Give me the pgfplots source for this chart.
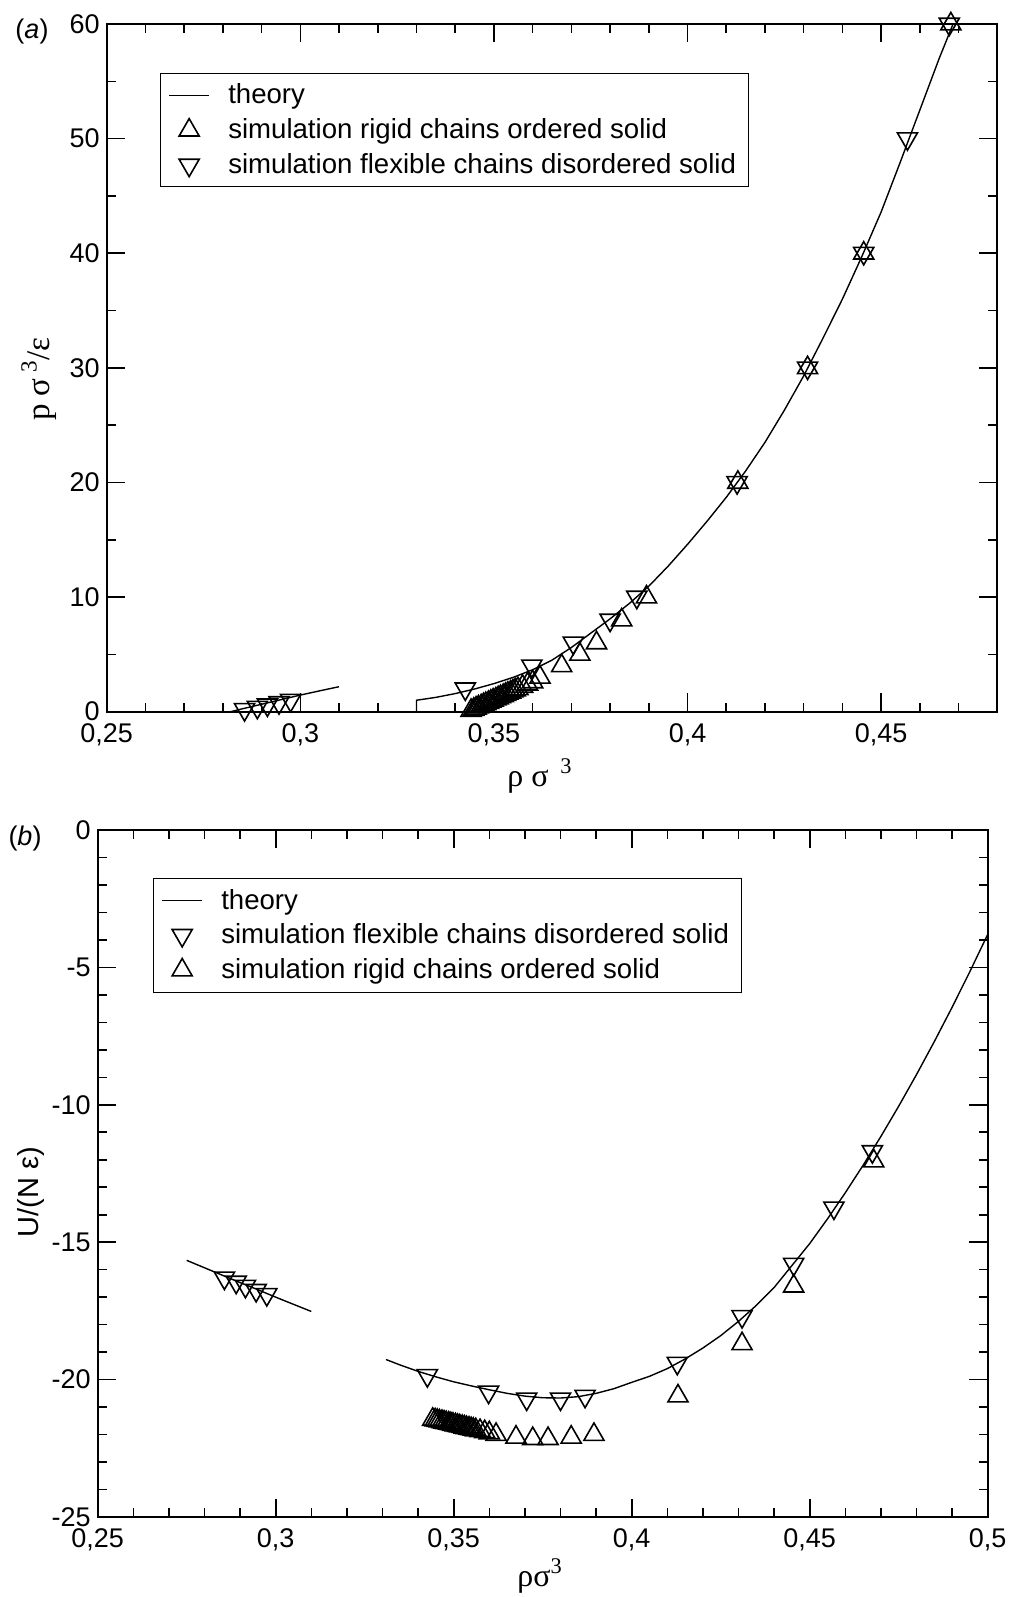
\documentclass[border=0pt]{standalone}
\usepackage{pgfplots}
\pgfplotsset{compat=1.18}
\usepackage{fontspec}
\setmainfont{Liberation Sans}
\newfontfamily\seriff{Liberation Serif}
\begin{document}
\begin{tikzpicture}
\path[use as bounding box] (0pt,0pt) rectangle (504.5pt,-798.5pt);
\pgfplotsset{
  every axis/.append style={
    scale only axis,
    axis line style={line width=1pt},
    every tick/.style={black, line width=0.8pt},
    major tick length=9.2pt, minor tick length=4.6pt,
    tick align=inside,
    tick label style={font=\fontsize{13.5}{15}\selectfont},
    xticklabel style={yshift=-2.2pt},
    legend cell align=left,
    legend image code/.code={\draw[mark repeat=2,mark phase=2,##1] plot coordinates {(0pt,0pt) (10pt,0pt) (20pt,0pt)};},
    legend style={draw=black, line width=0.5pt, fill=white,
      font=\fontsize{13.8}{15}\selectfont, anchor=north west,
      inner xsep=4pt, inner ysep=3pt, row sep=1.5pt, column sep=7pt,
      nodes={inner sep=2.2pt}},
  },
  theory/.style={black, line width=0.7pt, no marks},
  upt/.style={black, only marks, mark=triangle, mark size=5.8pt, mark options={solid, line width=0.8pt}},
  dnt/.style={black, only marks, mark=triangle, mark size=5.8pt, mark options={solid, line width=0.8pt, rotate=180}},
}
% ---------------- panel (a)
\begin{axis}[at={(53.35pt,-12pt)}, anchor=north west,
  width=445.3pt, height=343.85pt,
  xmin=0.25, xmax=0.48, ymin=0, ymax=60,
  xtick={0.25,0.3,0.35,0.4,0.45},
  xticklabels={{0,25},{0,3},{0,35},{0,4},{0,45}},
  minor xtick={0.26,0.27,0.28,0.29,0.31,0.32,0.33,0.34,0.36,0.37,0.38,0.39,0.41,0.42,0.43,0.44,0.46,0.47},
  ytick={0,10,20,30,40,50,60},
  yticklabels={0,10,20,30,40,50,60},
  minor ytick={5,15,25,35,45,55},
  legend style={at={(rel axis cs:0.0598,0.9287)}},
]
\addplot[theory] coordinates {
(0.282,0.0) (0.285,0.25) (0.29,0.65) (0.295,1.05) (0.30,1.45) (0.305,1.82) (0.31,2.18)};
\addlegendentry{theory}
\addplot[theory, forget plot] coordinates {
(0.330,0.0) (0.330,1.00) (0.335,1.25) (0.340,1.58) (0.345,1.98) (0.350,2.45)
(0.355,3.0) (0.360,3.66) (0.365,4.5) (0.370,5.6) (0.375,6.85) (0.380,8.1)
(0.385,9.45) (0.390,10.95) (0.395,12.7) (0.400,14.6) (0.405,16.6) (0.410,18.7)
(0.415,21.0) (0.420,23.5) (0.425,26.3) (0.430,29.3) (0.435,32.6) (0.440,36.0)
(0.445,39.7) (0.450,43.6) (0.455,48.0) (0.460,52.5) (0.465,57.0) (0.470,61.2)};
\addplot[upt] coordinates {
(0.3441,0.1) (0.3448,0.2) (0.3454,0.3) (0.3460,0.4) (0.3467,0.5) (0.3473,0.6)
(0.3479,0.7) (0.3486,0.8) (0.3492,0.9) (0.3498,1.0) (0.3505,1.1) (0.3511,1.2)
(0.3517,1.3) (0.3524,1.4) (0.3530,1.5) (0.3536,1.6) (0.3543,1.7) (0.3549,1.8)
(0.3555,1.9) (0.3562,2.0) (0.3574,2.2) (0.3587,2.4) (0.3600,2.6)
(0.3619,3) (0.3675,4) (0.3722,5) (0.3765,6) (0.383,8) (0.3894,10)
(0.413,20) (0.431,30) (0.4455,40) (0.468,60)};
\addlegendentry{simulation rigid chains ordered solid}
\addplot[dnt] coordinates {
(0.2856,0.2) (0.2889,0.4) (0.2915,0.6) (0.2945,0.8) (0.2975,1.0)
(0.3426,2) (0.3598,4) (0.3705,6) (0.380,8) (0.3869,10)
(0.4128,20) (0.431,30) (0.4455,40) (0.4568,50) (0.4676,60)};
\addlegendentry{simulation flexible chains disordered solid}
\end{axis}
% ---------------- panel (b)
\begin{axis}[at={(48.85pt,-415pt)}, anchor=north west,
  width=445pt, height=343.5pt,
  xmin=0.25, xmax=0.5, ymin=-25, ymax=0,
  xtick={0.25,0.3,0.35,0.4,0.45,0.5},
  xticklabels={{0,25},{0,3},{0,35},{0,4},{0,45},{0,5}},
  minor xtick={0.26,0.27,0.28,0.29,0.31,0.32,0.33,0.34,0.36,0.37,0.38,0.39,0.41,0.42,0.43,0.44,0.46,0.47,0.48,0.49},
  ytick={-25,-20,-15,-10,-5,0},
  yticklabels={-25,-20,-15,-10,-5,0},
  minor ytick={-24,-23,-22,-21,-19,-18,-17,-16,-14,-13,-12,-11,-9,-8,-7,-6,-4,-3,-2,-1},
  legend style={at={(rel axis cs:0.0621,0.930)}},
]
\addplot[theory] coordinates {
(0.275,-15.66) (0.28,-15.93) (0.285,-16.2) (0.29,-16.47) (0.295,-16.73)
(0.30,-17.0) (0.305,-17.26) (0.31,-17.52)};
\addlegendentry{theory}
\addplot[theory, forget plot] coordinates {
(0.331,-19.27) (0.335,-19.47) (0.34,-19.7) (0.345,-19.9) (0.35,-20.08)
(0.355,-20.23) (0.36,-20.37) (0.365,-20.5) (0.37,-20.6) (0.375,-20.66)
(0.38,-20.67) (0.385,-20.62) (0.39,-20.5) (0.395,-20.33) (0.40,-20.1)
(0.405,-19.88) (0.41,-19.6) (0.415,-19.25) (0.42,-18.85) (0.425,-18.4)
(0.43,-17.88) (0.435,-17.3) (0.44,-16.65) (0.445,-15.85) (0.45,-15.05)
(0.455,-14.15) (0.46,-13.2) (0.465,-12.2) (0.47,-11.15) (0.475,-10.05)
(0.48,-8.9) (0.485,-7.7) (0.49,-6.45) (0.495,-5.15) (0.5,-3.8)};
\addplot[dnt] coordinates {
(0.2856,-16.3) (0.2889,-16.45) (0.2915,-16.6) (0.2945,-16.75) (0.2975,-16.9)
(0.3426,-19.85) (0.3598,-20.45) (0.3705,-20.7) (0.380,-20.7) (0.3869,-20.6)
(0.4128,-19.4) (0.431,-17.7) (0.4455,-15.8) (0.4568,-13.75) (0.4676,-11.7)};
\addlegendentry{simulation flexible chains disordered solid}
\addplot[upt] coordinates {
(0.3441,-21.45) (0.3448,-21.47) (0.3454,-21.49) (0.3460,-21.51) (0.3467,-21.53)
(0.3473,-21.55) (0.3479,-21.57) (0.3486,-21.59) (0.3492,-21.61) (0.3498,-21.63)
(0.3505,-21.65) (0.3511,-21.67) (0.3517,-21.69) (0.3524,-21.71) (0.3530,-21.73)
(0.3536,-21.75) (0.3543,-21.77) (0.3549,-21.79) (0.3555,-21.81) (0.3562,-21.83)
(0.3574,-21.86) (0.3587,-21.9) (0.3600,-21.94)
(0.3619,-22.0) (0.3675,-22.1) (0.3722,-22.15) (0.3765,-22.15) (0.383,-22.1)
(0.3894,-22.0) (0.413,-20.6) (0.431,-18.7) (0.4455,-16.6) (0.468,-12.05)};
\addlegendentry{simulation rigid chains ordered solid}
\end{axis}
% ---------------- labels
\node[font=\fontsize{13.5}{15}\selectfont] at (16pt,-16pt) {(\textit{a})};
\node[font=\fontsize{13.5}{15}\selectfont] at (12.5pt,-419pt) {(\textit{b})};
\node[rotate=90, font=\fontsize{16.5}{18}\seriff] at (19.35pt,-189.5pt) {p σ\,\textsuperscript{3}/ε};
\node[font=\fontsize{16}{18}\seriff] at (270pt,-388pt) {ρ σ \textsuperscript{\,3}};
\node[rotate=90, font=\fontsize{14.5}{16}\selectfont] at (15.25pt,-596pt) {U/(N ε)};
\node[font=\fontsize{16}{18}\seriff] at (270pt,-788pt) {ρσ\textsuperscript{3}};
\end{tikzpicture}
\end{document}
